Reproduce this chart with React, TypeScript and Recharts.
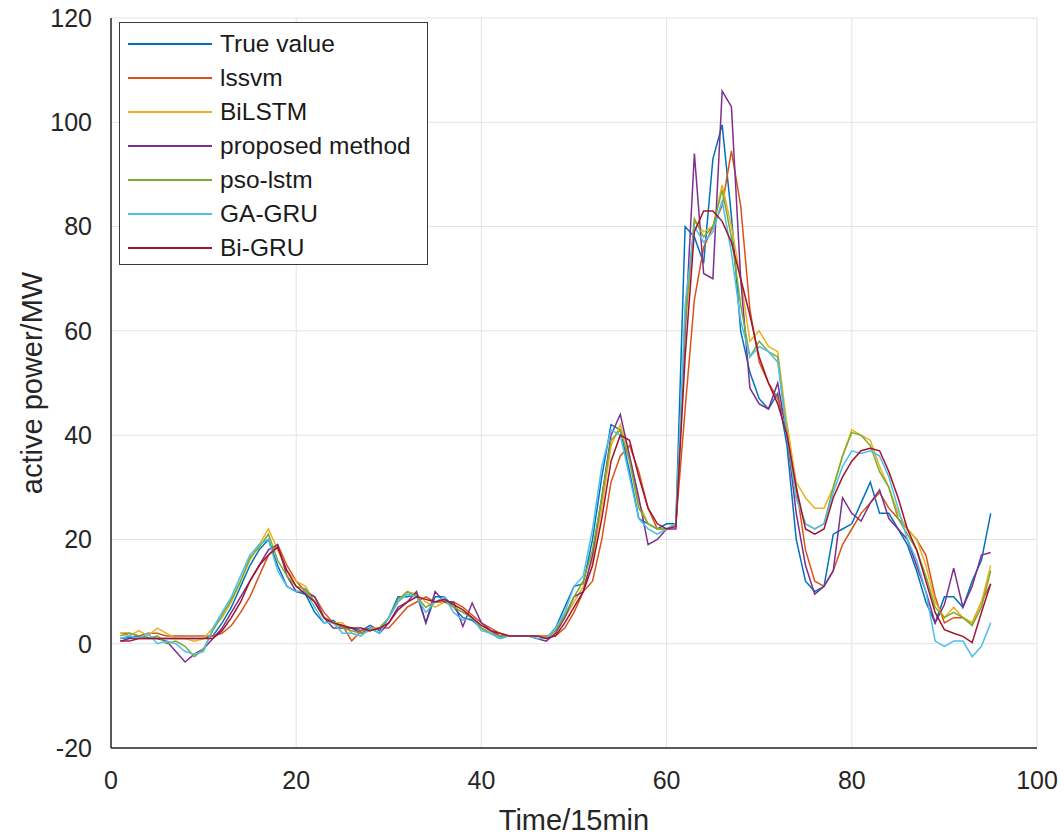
import { LineChart, Line, XAxis, YAxis, CartesianGrid } from 'recharts';

const SERIES = ['True value', 'lssvm', 'BiLSTM', 'proposed method', 'pso-lstm', 'GA-GRU', 'Bi-GRU'];
const COLORS = ['#0072BD', '#D95319', '#EDB120', '#7E2F8E', '#77AC30', '#4DBEEE', '#A2142F'];
const X_TICKS = [0, 20, 40, 60, 80, 100];
const Y_TICKS = [-20, 0, 20, 40, 60, 80, 100, 120];

const trueValue = [
  1, 1.2, 1.5, 1.2, 1, 1, 1, 1, 1, 1,
  1.5, 4, 7, 11, 15, 18, 20, 15, 11, 10,
  9.5, 6, 4, 4.5, 3, 3, 2.5, 3.5, 2.5, 5,
  9, 9, 9.5, 4, 9, 9, 7, 5, 4.5, 3,
  2, 1, 1.5, 1.5, 1.5, 1.5, 1, 3, 7, 11,
  11.5, 20, 32, 42, 41, 33, 24, 23, 22, 23,
  23, 80, 78, 73, 93, 99.5, 82, 60, 52, 47,
  45, 48, 38, 20, 12, 10, 11, 21, 22, 23,
  27, 31, 25, 25, 22, 19, 14, 8, 4, 9,
  9, 7, 12, 16, 25,
];
const lssvm = [
  2, 2, 1.5, 2, 2, 1.5, 1.5, 1.5, 1.5, 1.5,
  1.5, 2, 3.5, 6, 9, 13, 17, 19, 15, 12,
  10, 9, 6, 4, 3.5, 0.5, 2.5, 3, 3, 3,
  5, 7, 8, 9, 8, 8, 8, 7, 5.5, 4,
  3, 2, 1.5, 1.5, 1.5, 1.5, 1.5, 1.5, 3, 6,
  10, 12, 20, 31, 36, 38, 33, 26, 22, 22,
  23, 45, 66, 76, 80, 84, 94.5, 84, 64, 54,
  50, 47, 42, 30, 18, 12, 11, 14, 19, 22,
  25, 27, 29, 26, 24, 22, 20, 17, 9, 4,
  5, 5, 4, 8, 11.5,
];
const biLstm = [
  2, 1.5, 2.5, 1.5, 3, 2, 1, 1, 0.5, 1,
  3, 5, 8, 12, 16, 19, 22, 18, 14, 12,
  11, 8, 5, 4, 4, 2, 1.5, 3, 3, 5,
  8, 10, 9.5, 8, 7, 8, 7, 6, 5, 3,
  2, 2, 1.5, 1.5, 1.5, 1.5, 1, 2, 5, 8,
  11, 16, 26, 38, 42, 36, 27, 23, 22, 22,
  23, 60, 81, 79, 80, 88, 80, 70, 58, 60,
  57, 56, 42, 31, 28, 26, 26, 30, 36, 41,
  40, 39, 34, 30, 25, 22, 20, 15, 8, 5,
  7, 5, 4, 8, 15,
];
const proposed = [
  0.5, 1, 1, 1, 1, 0.5, -1.5, -3.5, -2, -1,
  1, 3, 6, 9, 12, 15, 18, 19, 13, 10,
  10, 9, 5, 3, 3, 3, 2, 3, 2, 4,
  7, 8, 10, 4, 10, 8, 8, 3.3, 7.8, 4,
  2.5, 1.5, 1.5, 1.5, 1.5, 1, 0.5, 2, 5, 9,
  10, 17, 28, 40, 44, 36, 28, 19, 20, 22,
  22, 60, 94, 71, 70, 106, 103, 70, 49, 46,
  45, 50, 40, 25, 15, 9.5, 11, 14, 28, 25,
  23.5, 27, 29.5, 24, 22, 20, 15, 10, 4, 7.5,
  14.5, 7, 11, 17, 17.5,
];
const psoLstm = [
  1.5, 2, 1.5, 1, 1.5, 0, 0.5, -0.5, -2.5, -1,
  2.5, 5.5, 8.5, 12, 16.5, 18.5, 21, 16, 13, 11,
  10.5, 8, 5, 4, 3, 2.5, 2, 2.5, 3, 5,
  8.5, 10, 9, 7, 8, 8.5, 7, 6, 5, 3,
  2, 1.5, 1.5, 1.5, 1.5, 1.5, 1, 2.5, 5.5, 9,
  12, 18, 28, 39, 41, 35, 26, 23, 22, 22,
  23, 62, 81.5, 78, 80, 87, 78, 65, 55, 58,
  56, 55, 40, 28, 23, 22, 23, 30, 36, 40.5,
  40, 38, 33, 30, 24, 21, 18, 13, 7, 5,
  6, 5, 3.5, 7, 14,
];
const gaGru = [
  1, 1.5, 1, 2, 0, 0.5, 0, -1.5, -2, -1.5,
  3, 6, 9, 13, 17, 19, 20, 14, 11, 10,
  10, 7, 4, 4, 2, 2, 1.5, 3, 2, 5,
  8, 9.5, 9, 6, 8, 9, 6, 4.5, 5, 2.5,
  2, 1, 1.5, 1.5, 1.5, 1, 1, 3, 6, 11,
  13, 22, 34, 41, 40, 32, 24, 22, 21, 22,
  23, 65, 80, 77, 79, 85, 75, 62, 55, 57,
  56, 54, 40, 28, 23, 22, 23, 29, 34, 37,
  36.5, 37, 36, 32, 26, 20, 16, 10, 0.5, -0.5,
  0.5, 0.5, -2.5, -0.5, 4,
];
const biGru = [
  0.5, 0.5, 1, 1, 1, 1, 1, 1, 1, 1,
  1, 2.5, 5, 8, 12, 15, 17, 18.5, 14, 11,
  9.5, 8, 5, 4, 3.5, 3, 3, 2.5, 3, 4,
  6.5, 8, 9, 8.5, 8, 8.5, 7.5, 6.5, 5, 3.5,
  2.5, 2, 1.5, 1.5, 1.5, 1.5, 1, 1.5, 4, 7,
  10, 15, 24, 35, 40, 39, 32, 26, 23, 22,
  22.5, 55, 79, 83, 83, 81, 77, 70, 63, 55,
  50, 46, 40, 30, 22, 21, 22, 28, 32, 35,
  37, 37.5, 37, 33, 28, 22, 18, 12, 6, 2.7,
  2, 1.4, 0.2, 6, 11.5,
];

const VALUES = [trueValue, lssvm, biLstm, proposed, psoLstm, gaGru, biGru];

const rows = trueValue.map((_, i) => {
  const row: Record<string, number> = { t: i + 1 };
  SERIES.forEach((name, s) => {
    row[name] = VALUES[s][i];
  });
  return row;
});

const FONT = '"Liberation Sans", Arial, sans-serif';
const INK = '#262626';
const HIDDEN_TICK = { fill: 'none', fontSize: 1 };
const INNER_TICK = { stroke: INK, strokeWidth: 1.2 };

// legend drawn as an overlay so it does not push the plot area
function LegendBox() {
  return (
    <div
      style={{
        position: 'absolute',
        left: 119,
        top: 22,
        boxSizing: 'border-box',
        width: 309,
        height: 243,
        border: '1.5px solid #3a3a3a',
        background: '#fff',
        fontFamily: FONT,
        fontSize: 24.5,
        color: '#1a1a1a',
      }}
    >
      {SERIES.map((name, i) => (
        <div
          key={name}
          style={{ position: 'absolute', left: 0, top: 4 + i * 34, height: 34, display: 'flex', alignItems: 'center' }}
        >
          <div style={{ flex: '0 0 84px', height: 1.5, background: COLORS[i], marginLeft: 8, marginRight: 8 }} />
          <span style={{ whiteSpace: 'nowrap', lineHeight: '34px' }}>{name}</span>
        </div>
      ))}
    </div>
  );
}

export default function App() {
  const tick = { fill: INK, fontSize: 25, fontFamily: FONT };
  return (
    <div style={{ position: 'absolute', left: 0, top: 0, width: 1064, height: 838, background: '#fff' }}>
      <LineChart width={1064} height={838} data={rows} margin={{ top: 18, right: 27, bottom: 60, left: 51 }}>
        <CartesianGrid stroke="#e3e3e3" strokeWidth={1} />
        {/* inward tick marks, MATLAB style, on all four sides */}
        <XAxis xAxisId="bt" dataKey="t" type="number" domain={[0, 100]} ticks={X_TICKS} mirror height={0}
          tick={HIDDEN_TICK} tickSize={9} tickLine={INNER_TICK} axisLine={false} />
        <XAxis
          dataKey="t"
          type="number"
          domain={[0, 100]}
          ticks={X_TICKS}
          tick={tick}
          tickLine={false}
          axisLine={{ stroke: INK, strokeWidth: 1.5 }}
          tickMargin={17}
          height={30}
          label={{ value: 'Time/15min', position: 'insideBottom', offset: -52, fill: INK, fontSize: 29, fontFamily: FONT }}
        />
        <XAxis xAxisId="top" dataKey="t" orientation="top" type="number" domain={[0, 100]} ticks={X_TICKS} mirror height={0}
          tick={HIDDEN_TICK} tickSize={9} tickLine={INNER_TICK} axisLine={{ stroke: INK, strokeWidth: 1.5 }} />
        <YAxis yAxisId="lt" type="number" domain={[-20, 120]} ticks={Y_TICKS} mirror width={0}
          tick={HIDDEN_TICK} tickSize={9} tickLine={INNER_TICK} axisLine={false} />
        <YAxis
          type="number"
          domain={[-20, 120]}
          ticks={Y_TICKS}
          tick={tick}
          tickLine={false}
          axisLine={{ stroke: INK, strokeWidth: 1.5 }}
          tickMargin={13}
          width={60}
          label={{ value: 'active power/MW', angle: -90, position: 'insideLeft', offset: -19, fill: INK, fontSize: 29, fontFamily: FONT, style: { textAnchor: 'middle' } }}
        />
        <YAxis yAxisId="right" orientation="right" type="number" domain={[-20, 120]} ticks={Y_TICKS} mirror width={0}
          tick={HIDDEN_TICK} tickSize={9} tickLine={INNER_TICK} axisLine={{ stroke: INK, strokeWidth: 1.5 }} />
        {SERIES.map((name, i) => (
          <Line
            key={name}
            dataKey={name}
            stroke={COLORS[i]}
            strokeWidth={1.5}
            dot={false}
            type="linear"
            isAnimationActive={false}
          />
        ))}
      </LineChart>
      <LegendBox />
    </div>
  );
}
